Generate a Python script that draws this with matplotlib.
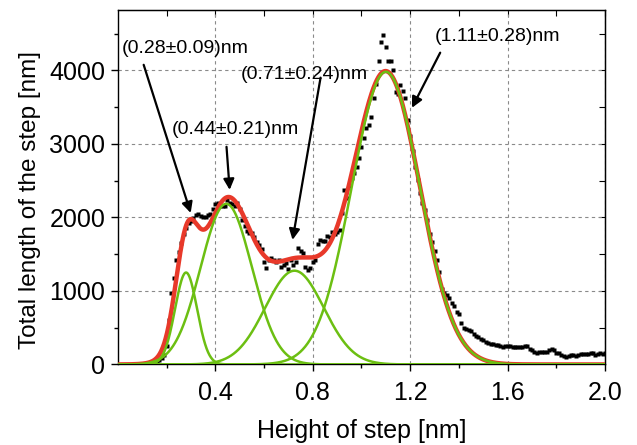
import numpy as np
import matplotlib.pyplot as plt

plt.rcParams['font.family'] = ['Liberation Sans', 'DejaVu Sans']

# measured histogram (bin centres every 0.01 nm from 0.15 to 2.00)
heights = np.round(np.arange(0.15, 2.001, 0.01), 2)
lengths = [
    15, 30, 60, 90, 130, 250, 600, 970, 1170, 1420,
    1530, 1650, 1780, 1850, 1920, 1950, 1990, 2030, 2050, 2020,
    2010, 2000, 2035, 2040, 2110, 2180, 2190, 2160, 2150, 2150,
    2230, 2200, 2180, 2150, 2200, 2120, 1960, 1880, 1820, 1785,
    1785, 1740, 1670, 1630, 1570, 1400, 1310, 1420, 1445, 1420,
    1400, 1420, 1325, 1350, 1380, 1295, 1420, 1355, 1400, 1580,
    1540, 1510, 1330, 1290, 1310, 1400, 1420, 1640, 1690, 1680,
    1680, 1750, 1740, 1800, 1770, 1800, 1830, 2060, 2370, 2260,
    2420, 2540, 2600, 2690, 2810, 2960, 3080, 3210, 3260, 3360,
    3620, 3820, 4120, 4390, 4480, 4320, 4130, 4120, 4010, 3710,
    3680, 3800, 3720, 3620, 3330, 3100, 2900, 2690, 2510, 2330,
    2190, 2100, 1960, 1780, 1670, 1540, 1420, 1260, 1020, 970,
    950, 910, 840, 790, 720, 680, 560, 490, 480, 470,
    450, 420, 390, 370, 340, 330, 300, 290, 280, 275,
    265, 260, 245, 240, 250, 250, 245, 240, 235, 235,
    240, 240, 245, 250, 215, 195, 170, 160, 165, 175,
    170, 175, 200, 205, 190, 160, 155, 130, 110, 100,
    115, 130, 125, 115, 130, 145, 140, 145, 140, 155,
    160, 130, 140, 150, 145, 150,
]

# gaussian fit components
peak_centres = [0.28, 0.445, 0.725, 1.10]
peak_sigmas = [0.045, 0.105, 0.12, 0.14]
peak_amps = [1250, 2185, 1275, 3980]
peak_labels = ['(0.28±0.09)nm', '(0.44±0.21)nm', '(0.71±0.24)nm', '(1.11±0.28)nm']

# annotation placement: text centre, arrow tail, arrow tip (data coords)
label_pos = [(0.276, 4300), (0.481, 3190), (0.764, 3940), (1.56, 4455)]
arrow_tail = [(0.106, 4075), (0.446, 2960), (0.832, 3900), (1.323, 4240)]
arrow_tip = [(0.299, 2060), (0.459, 2374), (0.717, 1694), (1.207, 3490)]

green = '#6cbf12'
red = '#e8392a'

xs = np.linspace(0, 2, 1000)
comps = [a * np.exp(-(xs - c) ** 2 / (2 * s ** 2))
         for c, s, a in zip(peak_centres, peak_sigmas, peak_amps)]
total = np.sum(comps, axis=0)

fig = plt.figure(figsize=(6.37, 4.45), dpi=100)
ax = fig.add_axes([0.185, 0.181, 0.765, 0.7965])

ax.plot(heights, lengths, 's', color='black', ms=3.5, mec='none', zorder=2)
ax.plot(xs, total, color=red, lw=3.2, zorder=3)
for comp in comps:
    ax.plot(xs, comp, color=green, lw=1.8, zorder=4)

for lab, tp, tail, tip in zip(peak_labels, label_pos, arrow_tail, arrow_tip):
    ax.text(tp[0], tp[1], lab, fontsize=14, ha='center', va='center', zorder=6)
    ax.annotate('', xy=tip, xytext=tail,
                arrowprops=dict(arrowstyle='-|>', color='black', lw=1.6,
                                mutation_scale=16, shrinkA=0, shrinkB=0),
                zorder=6)

ax.set_xlim(0, 2.0)
ax.set_ylim(0, 4820)
ax.set_xticks([0.4, 0.8, 1.2, 1.6, 2.0])
ax.set_xticks(np.arange(0.2, 2.0, 0.2), minor=True)
ax.set_yticks([0, 1000, 2000, 3000, 4000])
ax.set_yticks(np.arange(500, 4800, 500), minor=True)
ax.set_xticklabels(['0.4', '0.8', '1.2', '1.6', '2.0'])
ax.grid(True, which='major', color='#8a8a8a', ls=(0, (3, 3)), lw=0.8)
ax.tick_params(which='major', direction='out', length=5, labelsize=18, width=1)
ax.tick_params(which='minor', direction='out', length=3, width=1)
ax.tick_params(axis='x', pad=7)
ax.tick_params(axis='y', pad=4)

# inward ticks on the top and right frame
top = ax.secondary_xaxis('top')
top.set_xticks(np.arange(0.2, 2.01, 0.2))
top.tick_params(direction='in', length=4, labeltop=False)
right = ax.secondary_yaxis('right')
right.set_yticks(np.arange(500, 4800, 500))
right.tick_params(direction='in', length=4, labelright=False)

for sp in ax.spines.values():
    sp.set_linewidth(1)

ax.set_xlabel('Height of step [nm]', fontsize=18, labelpad=10)
ax.set_ylabel('Total length of the step [nm]', fontsize=17.5)
ax.yaxis.set_label_coords(-0.158, 0.465)

fig.savefig('out.png', dpi=100)
